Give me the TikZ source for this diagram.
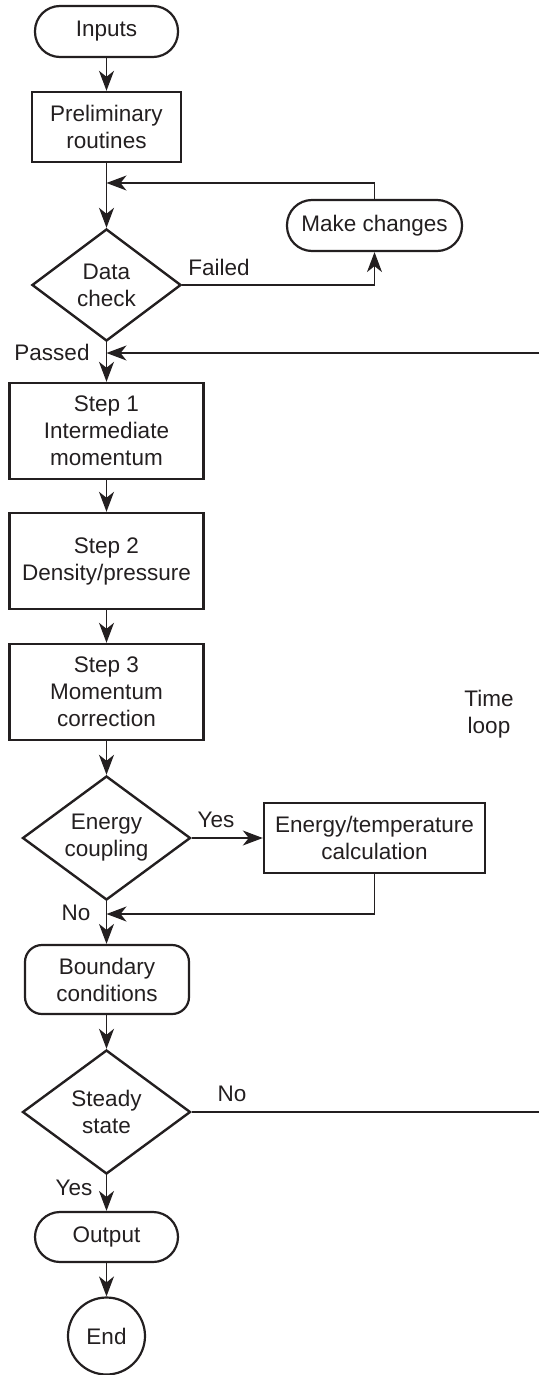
\documentclass[tikz,border=0pt]{standalone}
\usepackage{fontspec}
\setmainfont{Liberation Sans}
\usetikzlibrary{shapes.geometric,arrows.meta}
\definecolor{ink}{HTML}{231F20}
\tikzset{
  every node/.style={font=\fontsize{22.5}{27}\selectfont, text=ink, align=center, inner sep=0pt},
  boxst/.style={draw=ink, line width=2.4pt, rectangle},
  term/.style={draw=ink, line width=2.2pt, rectangle, rounded corners=25pt},
  roundbox/.style={draw=ink, line width=2.2pt, rectangle, rounded corners=17pt},
  decide/.style={draw=ink, line width=2.4pt, diamond, aspect=1.3},
  conn/.style={draw=ink, line width=1.4pt},
  arr/.style={conn, -{Stealth[length=20pt, width=15pt, inset=6pt]}},
}
\begin{document}
\begin{tikzpicture}[x=1pt, y=-1pt]
\useasboundingbox (0,0) rectangle (539,1375);
\node[term, minimum width=143pt, minimum height=51pt] (in) at (106.5,31.5) {Inputs};
\node[boxst, minimum width=149pt, minimum height=70pt] (pr) at (106.5,127) {Preliminary\\routines};
\node[term, minimum width=175pt, minimum height=51pt] (mc) at (374.5,225.5) {Make changes};
\node[decide, minimum width=149pt, minimum height=112pt] (dc) at (106.5,285) {Data\\check};
\node[boxst, minimum width=194pt, minimum height=96pt] (s1) at (106.5,431) {Step 1\\Intermediate\\momentum};
\node[boxst, minimum width=194pt, minimum height=96pt] (s2) at (106.5,561) {Step 2\\Density/pressure};
\node[boxst, minimum width=194pt, minimum height=96pt] (s3) at (106.5,692) {Step 3\\Momentum\\correction};
\node[decide, minimum width=168pt, minimum height=124pt] (ec) at (106.5,838) {Energy\\coupling};
\node[boxst, minimum width=221pt, minimum height=70pt] (et) at (374.5,838) {Energy/temperature\\calculation};
\node[roundbox, minimum width=164pt, minimum height=69pt] (bc) at (107,979.5) {Boundary\\conditions};
\node[decide, minimum width=168pt, minimum height=124pt] (ss) at (106.5,1112) {Steady\\state};
\node[term, minimum width=143pt, minimum height=50pt] (out) at (106.5,1237) {Output};
\node[circle, draw=ink, line width=2.2pt, minimum size=77pt] (end) at (106.5,1336) {End};

\node (lfail) at (219,267) {Failed};
\node (lpass) at (52,352) {Passed};
\node (lyes1) at (216,820) {Yes};
\node (lno1) at (76,913) {No};
\node (lno2) at (232,1094) {No};
\node (lyes2) at (74,1188) {Yes};
\node (tl) at (489,714) {Time\\loop};

\coordinate (j1) at (106.5,183);
\coordinate (k1) at (374.5,183);
\coordinate (k2) at (374.5,285);
\coordinate (j2) at (106.5,353);
\coordinate (e1) at (539,353);
\coordinate (j3) at (106.5,914);
\coordinate (k3) at (374.5,914);
\coordinate (e2) at (539,1112);

\draw[arr] (in) -- (pr);
\draw[arr] (pr) -- (dc.north);
\draw[arr] (mc.north) -- (k1) -- (j1);
\draw[arr] (dc.east) -- (k2) -- (mc.south);
\draw[arr] (dc.south) -- (s1);
\draw[arr] (e1) -- (j2);
\draw[arr] (s1) -- (s2);
\draw[arr] (s2) -- (s3);
\draw[arr] (s3) -- (ec.north);
\draw[arr] (ec.east) -- (et);
\draw[arr] (ec.south) -- (bc.north -| ec.south);
\draw[arr] (et.south) -- (k3) -- (j3);
\draw[arr] (bc.south -| ss.north) -- (ss.north);
\draw[conn] (ss.east) -- (e2);
\draw[arr] (ss.south) -- (out);
\draw[arr] (out) -- (end);
\end{tikzpicture}
\end{document}
